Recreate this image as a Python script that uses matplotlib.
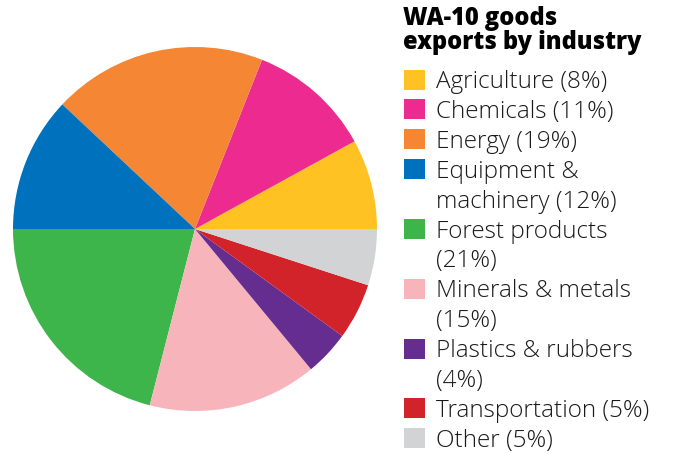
import matplotlib
matplotlib.use("Agg")
import matplotlib.pyplot as plt
from matplotlib.patches import Rectangle

categories = ["Agriculture", "Chemicals", "Energy", "Equipment &\nmachinery",
              "Forest products\n", "Minerals & metals\n", "Plastics & rubbers\n",
              "Transportation", "Other"]
values = [8, 11, 19, 12, 21, 15, 4, 5, 5]
colors = ["#FFC222", "#EC2A8F", "#F58634", "#0071BC", "#3DB54A",
          "#F7B5BB", "#662D91", "#D2232A", "#D1D3D4"]
title = "WA-10 goods\nexports by industry"

W, H = 682, 453
fig = plt.figure(figsize=(W / 100, H / 100), dpi=100)

cx, cy, r = 195, 229, 182
ax = fig.add_axes([(cx - r) / W, (H - cy - r) / H, 2 * r / W, 2 * r / H])
ax.pie(values, colors=colors, startangle=0, counterclock=True,
       wedgeprops=dict(linewidth=0))
ax.set_xlim(-1, 1)
ax.set_ylim(-1, 1)
ax.set_aspect("equal")
ax.axis("off")

fig.text(403 / W, 1 - 6 / H, title, ha="left", va="top", fontsize=17,
         fontweight="heavy", family=["Open Sans", "DejaVu Sans"], linespacing=0.95)

row = 29.9
y = 79.5
for cat, v, c in zip(categories, values, colors):
    lines = cat.split("\n")
    if len(lines) == 2 and lines[1] == "":
        label = f"{lines[0]}\n({v}%)"
    elif len(lines) == 2:
        label = f"{lines[0]}\n{lines[1]} ({v}%)"
    else:
        label = f"{cat} ({v}%)"
    fig.patches.append(Rectangle((404 / W, 1 - (y + 10) / H), 21 / W, 20 / H,
                                 transform=fig.transFigure, facecolor=c,
                                 edgecolor="none"))
    nl = label.count("\n") + 1
    for i, ln in enumerate(label.split("\n")):
        fig.text(436 / W, 1 - (y - 0.5 + i * row) / H, ln, ha="left",
                 va="center_baseline", fontsize=17.5, fontweight="light",
                 family=["Open Sans", "DejaVu Sans"], color="#1a1a1a")
    y += row * nl

fig.savefig("out.png", dpi=100)
